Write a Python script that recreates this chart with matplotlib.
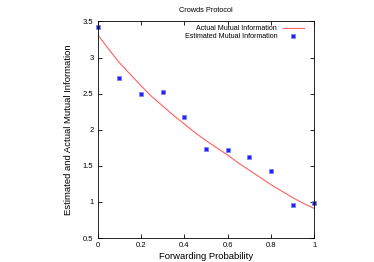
import matplotlib
matplotlib.use('Agg')
from matplotlib import pyplot as plt

# estimated mutual information (points)
est_p = [0.0, 0.1, 0.2, 0.3, 0.4, 0.5, 0.6, 0.7, 0.8, 0.9, 1.0]
est_mi = [3.42, 2.72, 2.50, 2.52, 2.17, 1.74, 1.72, 1.62, 1.43, 0.96, 0.99]

# actual mutual information (curve)
act_p = [0.0, 0.05, 0.1, 0.15, 0.2, 0.25, 0.3, 0.35, 0.4, 0.45, 0.5,
         0.55, 0.6, 0.65, 0.7, 0.75, 0.8, 0.85, 0.9, 0.95, 1.0]
act_mi = [3.32, 3.12, 2.93, 2.77, 2.61, 2.46, 2.33, 2.20, 2.08, 1.96, 1.85,
          1.75, 1.65, 1.54, 1.44, 1.34, 1.24, 1.15, 1.06, 0.98, 0.91]

xticks = [0, 0.2, 0.4, 0.6, 0.8, 1]
xticklabels = ['0', '0.2', '0.4', '0.6', '0.8', '1']
yticks = [0.5, 1, 1.5, 2, 2.5, 3, 3.5]
yticklabels = ['0.5', '1', '1.5', '2', '2.5', '3', '3.5']

plt.rcParams['font.family'] = ['Liberation Sans', 'DejaVu Sans']

fig = plt.figure(figsize=(3.74, 2.62), dpi=100)
ax = fig.add_axes([0.261, 0.0916, 0.579, 0.8264])

ax.plot(act_p, act_mi, color='#ff6060', lw=0.8, label='Actual Mutual Information')
ax.plot(est_p, est_mi, ls='none', marker='s', ms=2.4, mfc='#2020ff',
        mec='#8080ff', mew=0.6, label='Estimated Mutual Information',
        clip_on=False)

ax.set_xlim(0, 1)
ax.set_ylim(0.5, 3.5)
ax.set_xticks(xticks)
ax.set_xticklabels(xticklabels)
ax.set_yticks(yticks)
ax.set_yticklabels(yticklabels)
ax.tick_params(direction='in', top=True, right=True, length=3, width=0.6,
               labelsize=5.5, pad=3)
for s in ax.spines.values():
    s.set_linewidth(0.6)

ax.set_xlabel('Forwarding Probability', fontsize=6.8, labelpad=2)
ax.set_ylabel('Estimated and Actual Mutual Information', fontsize=6.8,
              labelpad=7)
ax.set_title('Crowds Protocol', fontsize=5.3, pad=7)

ax.legend(loc='upper right', bbox_to_anchor=(0.97, 1.0), frameon=False,
          markerfirst=False, fontsize=5.1, handlelength=3.0,
          handletextpad=0.8, labelspacing=0.15, borderaxespad=0.2,
          borderpad=0.3)

plt.savefig('out.png', dpi=100)
